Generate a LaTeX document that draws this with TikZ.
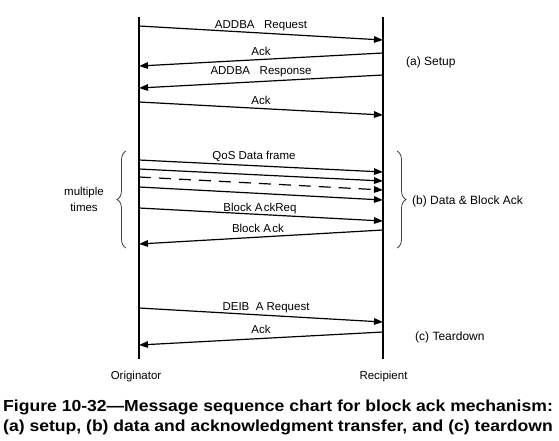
\documentclass[tikz,border=0pt]{standalone}
\usepackage{fontspec}
\setmainfont{Liberation Sans}
\usetikzlibrary{arrows.meta,decorations.pathreplacing}
\begin{document}
\begin{tikzpicture}[x=1pt,y=-1pt,
  lifeline/.style={line width=1.5pt},
  msg/.style={line width=1.2pt,-{Triangle[length=9pt,width=6.5pt]}},
  dmsg/.style={msg,dash pattern=on 12pt off 8pt},
  lbl/.style={font=\fontsize{11.5}{13}\selectfont,inner sep=0pt,anchor=base},
  side/.style={font=\fontsize{12}{14}\selectfont,inner sep=0pt,anchor=base west},
  captext/.style={font=\fontsize{16}{20}\selectfont\bfseries,inner sep=0pt,anchor=base west},
  bracestyle/.style={line width=0.8pt,draw=black!75,decorate,decoration={brace,amplitude=9pt}}]
\useasboundingbox (0,0) rectangle (559,440);
\fill[white] (0,0) rectangle (559,440);
% lifelines
\coordinate (oT) at (139,17);
\coordinate (oB) at (139,359);
\coordinate (rT) at (383,17);
\coordinate (rB) at (383,359);
\draw[lifeline] (oT) -- (oB);
\draw[lifeline] (rT) -- (rB);
% endpoints
\coordinate (o1) at (139,26);  \coordinate (r1) at (383,40);
\coordinate (r2) at (383,53);  \coordinate (o2) at (139,66);
\coordinate (r3) at (383,75);  \coordinate (o3) at (139,88);
\coordinate (o4) at (139,102); \coordinate (r4) at (383,115);
\coordinate (o5) at (139,160); \coordinate (r5) at (383,172);
\coordinate (o6) at (139,169); \coordinate (r6) at (383,181);
\coordinate (o7) at (139,177); \coordinate (r7) at (383,190);
\coordinate (o8) at (139,187); \coordinate (r8) at (383,200);
\coordinate (o9) at (139,208); \coordinate (r9) at (383,221);
\coordinate (r10) at (383,230); \coordinate (o10) at (139,244);
\coordinate (o11) at (139,308); \coordinate (r11) at (383,322);
\coordinate (r12) at (383,332); \coordinate (o12) at (139,345);
% messages
\draw[msg] (o1) -- (r1);
\draw[msg] (r2) -- (o2);
\draw[msg] (r3) -- (o3);
\draw[msg] (o4) -- (r4);
\draw[msg] (o5) -- (r5);
\draw[msg] (o6) -- (r6);
\draw[dmsg] (o7) -- (r7);
\draw[msg] (o8) -- (r8);
\draw[msg] (o9) -- (r9);
\draw[msg] (r10) -- (o10);
\draw[msg] (o11) -- (r11);
\draw[msg] (r12) -- (o12);
% labels
\node[lbl] (t1) at (261,28) {ADDBA\ \ \ Request};
\node[lbl] (t2) at (261,55) {Ack};
\node[lbl] (t3) at (261,74) {ADDBA\ \ \ Response};
\node[lbl] (t4) at (261,104) {Ack};
\node[lbl] (t5) at (254,159) {QoS Data frame};
\node[lbl] (t6) at (260,211.5) {Block A\kern1.5pt ckReq};
\node[lbl] (t7) at (258,232) {Block A\kern1.5pt ck};
\node[lbl] (t8) at (266,310) {DEIB\ \ A Request};
\node[lbl] (t9) at (261,333.5) {Ack};
\node[lbl] (m1) at (84,195) {multiple};
\node[lbl] (m2) at (84,211) {times};
\node[side] (sa) at (406,65) {(a) Setup};
\node[side] (sb) at (412,204) {(b) Data \& Block Ack};
\node[side] (sc) at (415,340.5) {(c) Teardown};
\node[lbl] (orig) at (136,379) {Originator};
\node[lbl] (reci) at (383.5,379) {Recipient};
% braces
\draw[bracestyle] (126,248) -- (126,151);
\draw[bracestyle] (397,151) -- (397,248);
% caption
\node[captext] (c1) at (3,411) {\scalebox{1.098}[1]{Figure 10-32—Message sequence chart for block ack mechanism:}};
\node[captext] (c2) at (3,431) {\scalebox{1.098}[1]{(a) setup, (b) data and acknowledgment transfer, and (c) teardown}};
\end{tikzpicture}
\end{document}
